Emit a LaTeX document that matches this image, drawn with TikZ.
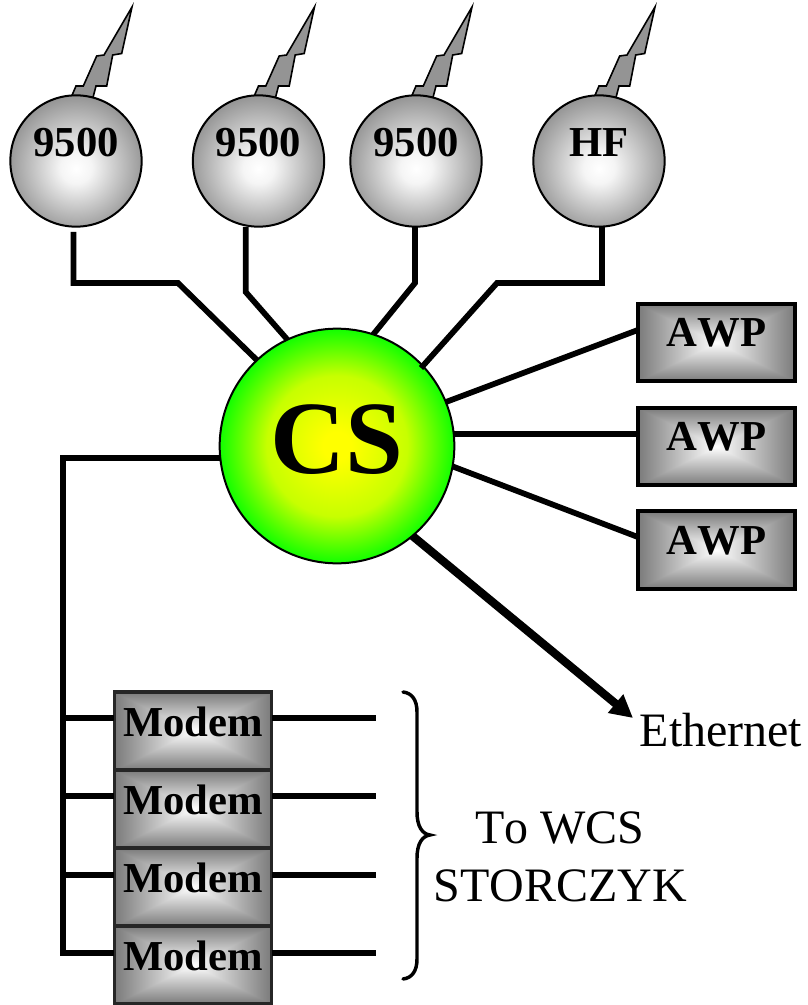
\documentclass[tikz,border=0pt]{standalone}
\usepackage{fontspec}
\setmainfont[Kerning=Off]{Liberation Serif}
\usetikzlibrary{arrows.meta}
\pgfdeclareradialshading{sphere}{\pgfpoint{0bp}{-3bp}}{color(0bp)=(white);color(6bp)=(white!96!black);color(28bp)=(black!45);color(50bp)=(black!45)}
\definecolor{limea}{rgb}{0.78,1,0}
\definecolor{limeb}{rgb}{0.35,1,0}
\definecolor{limec}{rgb}{0,1,0}
\pgfdeclareradialshading{csball}{\pgfpoint{0bp}{0bp}}{color(0bp)=(yellow);color(3bp)=(yellow);color(15bp)=(limea);color(21bp)=(limeb);color(26bp)=(limec);color(50bp)=(limec)}
\pgfdeclarefunctionalshading{rectgrad}{\pgfpointorigin}{\pgfpoint{100bp}{100bp}}{}{
  50 sub abs exch 50 sub abs
  2 copy lt {exch} if pop
  25 div dup 1 gt {pop 1} if
  0.52 mul 1 exch sub dup dup
}
\tikzset{
  x=0.75pt,y=-0.75pt,
  wire/.style={line width=4.3pt,line join=miter},
  ball/.style={circle,draw=black,line width=1.5pt,inner sep=0pt,outer sep=0pt,minimum size=98.5pt,shade,shading=sphere},
  csnode/.style={circle,draw=black,line width=1.5pt,inner sep=0pt,outer sep=0pt,minimum size=176pt,shade,shading=csball},
  awpbox/.style={rectangle,draw=black,line width=3pt,inner sep=0pt,outer sep=0pt,minimum width=118pt,minimum height=58pt,shade,shading=rectgrad},
  modembox/.style={rectangle,draw=black!85,line width=2.6pt,inner sep=0pt,outer sep=0pt,minimum width=118pt,minimum height=58.5pt,shade,shading=rectgrad},
  boldtext/.style={font=\bfseries\fontsize{32pt}{34pt}\selectfont,inner sep=0pt,outer sep=0pt},
  plaintext/.style={font=\fontsize{36pt}{40pt}\selectfont,inner sep=0pt,outer sep=0pt,align=center},
  bolt/.pic={\draw[fill=black!42,line width=1.2pt,line join=miter]
    (56,-154) -- (45.7,-107.5) -- (36.7,-106) -- (30.7,-75) -- (20,-75) -- (17,-63.5) -- (-4.3,-65) -- (0,-75) -- (7.3,-75) -- (20.7,-105) -- (28,-106) -- cycle;}
}
\begin{document}
\begin{tikzpicture}
\useasboundingbox (0,0) rectangle (807,1005);
\coordinate (c1) at (76,161);
\coordinate (c2) at (258.5,161);
\coordinate (c3) at (416,161);
\coordinate (c4) at (599,161);
\pic at (c1) {bolt};
\pic at (c2) {bolt};
\pic at (c3) {bolt};
\pic at (c4) {bolt};
\node[ball,label={[boldtext,yshift=13.5pt]center:9500}] (r1) at (c1) {};
\node[ball,label={[boldtext,yshift=13.5pt]center:9500}] (r2) at (c2) {};
\node[ball,label={[boldtext,yshift=13.5pt]center:9500}] (r3) at (c3) {};
\node[ball,label={[boldtext,yshift=13.5pt]center:HF}] (r4) at (c4) {};

\node[awpbox,label={[boldtext,yshift=7pt]center:AWP}] (a1) at (716.5,342.5) {};
\node[awpbox,label={[boldtext,yshift=7pt]center:AWP}] (a2) at (716.5,446.5) {};
\node[awpbox,label={[boldtext,yshift=7pt]center:AWP}] (a3) at (716.5,550) {};

\node[modembox,label={[boldtext,yshift=7pt]center:Modem}] (m1) at (193,731) {};
\node[modembox,label={[boldtext,yshift=7pt]center:Modem}] (m2) at (193,809) {};
\node[modembox,label={[boldtext,yshift=7pt]center:Modem}] (m3) at (193,887) {};
\node[modembox,label={[boldtext,yshift=7pt]center:Modem}] (m4) at (193,965) {};

\node[csnode,label={[boldtext,font=\bfseries\fontsize{78pt}{82pt}\selectfont,yshift=5pt]center:CS}] (cs) at (337,446) {};

% top connectors
\draw[wire] (cs.133) -- (178,283) -- (73.5,283) -- (73.5,232);
\draw[wire] (cs.115) -- (245.7,292) -- (245.7,227);
\draw[wire] (cs.72.5) -- (415,283) -- (415,227);
\draw[wire] (421,368) -- (497,283) -- (602,283) -- (602,227);

% AWP connectors
\draw[wire] (cs.22.7) -- (a1.west |- 0,330);
\draw[wire] (cs.6.3) -- (a2.west |- cs.6.3);
\draw[wire] (cs.-10.7) -- (a3.west |- 0,537);

% ethernet
\node[plaintext] (eth) at (721,730) {Ethernet};
\coordinate (ethend) at (633,718);
\draw[line width=6.2pt,-{Triangle[length=17pt,width=17pt]}] (cs.-50.8) -- (ethend);

% modem bus
\draw[wire] (cs.186.3) -- (63,0 |- cs.186.3) -- (63,953) -- (m4.west |- 0,953);
\draw[wire] (63,718) -- (m1.west |- 0,718);
\draw[wire] (63,796) -- (m2.west |- 0,796);
\draw[wire] (63,875) -- (m3.west |- 0,875);

% modem outputs
\coordinate (o1) at (376,718);
\coordinate (o2) at (376,796);
\coordinate (o3) at (376,875);
\coordinate (o4) at (376,953);
\draw[wire] (m1.east |- o1) -- (o1);
\draw[wire] (m2.east |- o2) -- (o2);
\draw[wire] (m3.east |- o3) -- (o3);
\draw[wire] (m4.east |- o4) -- (o4);

% brace
\draw[line width=2.6pt,line cap=round]
  (403,692) .. controls (412,693) and (417,700) .. (417,712)
  -- (417,812) .. controls (417,826) and (422,834) .. (430,835)
  .. controls (422,836) and (417,844) .. (417,858)
  -- (417,959) .. controls (417,971) and (412,978) .. (403,979);

\node[plaintext] (wcs) at (560,828) {To WCS};
\node[plaintext] (stor) at (560,886) {STORCZYK};
\end{tikzpicture}
\end{document}
